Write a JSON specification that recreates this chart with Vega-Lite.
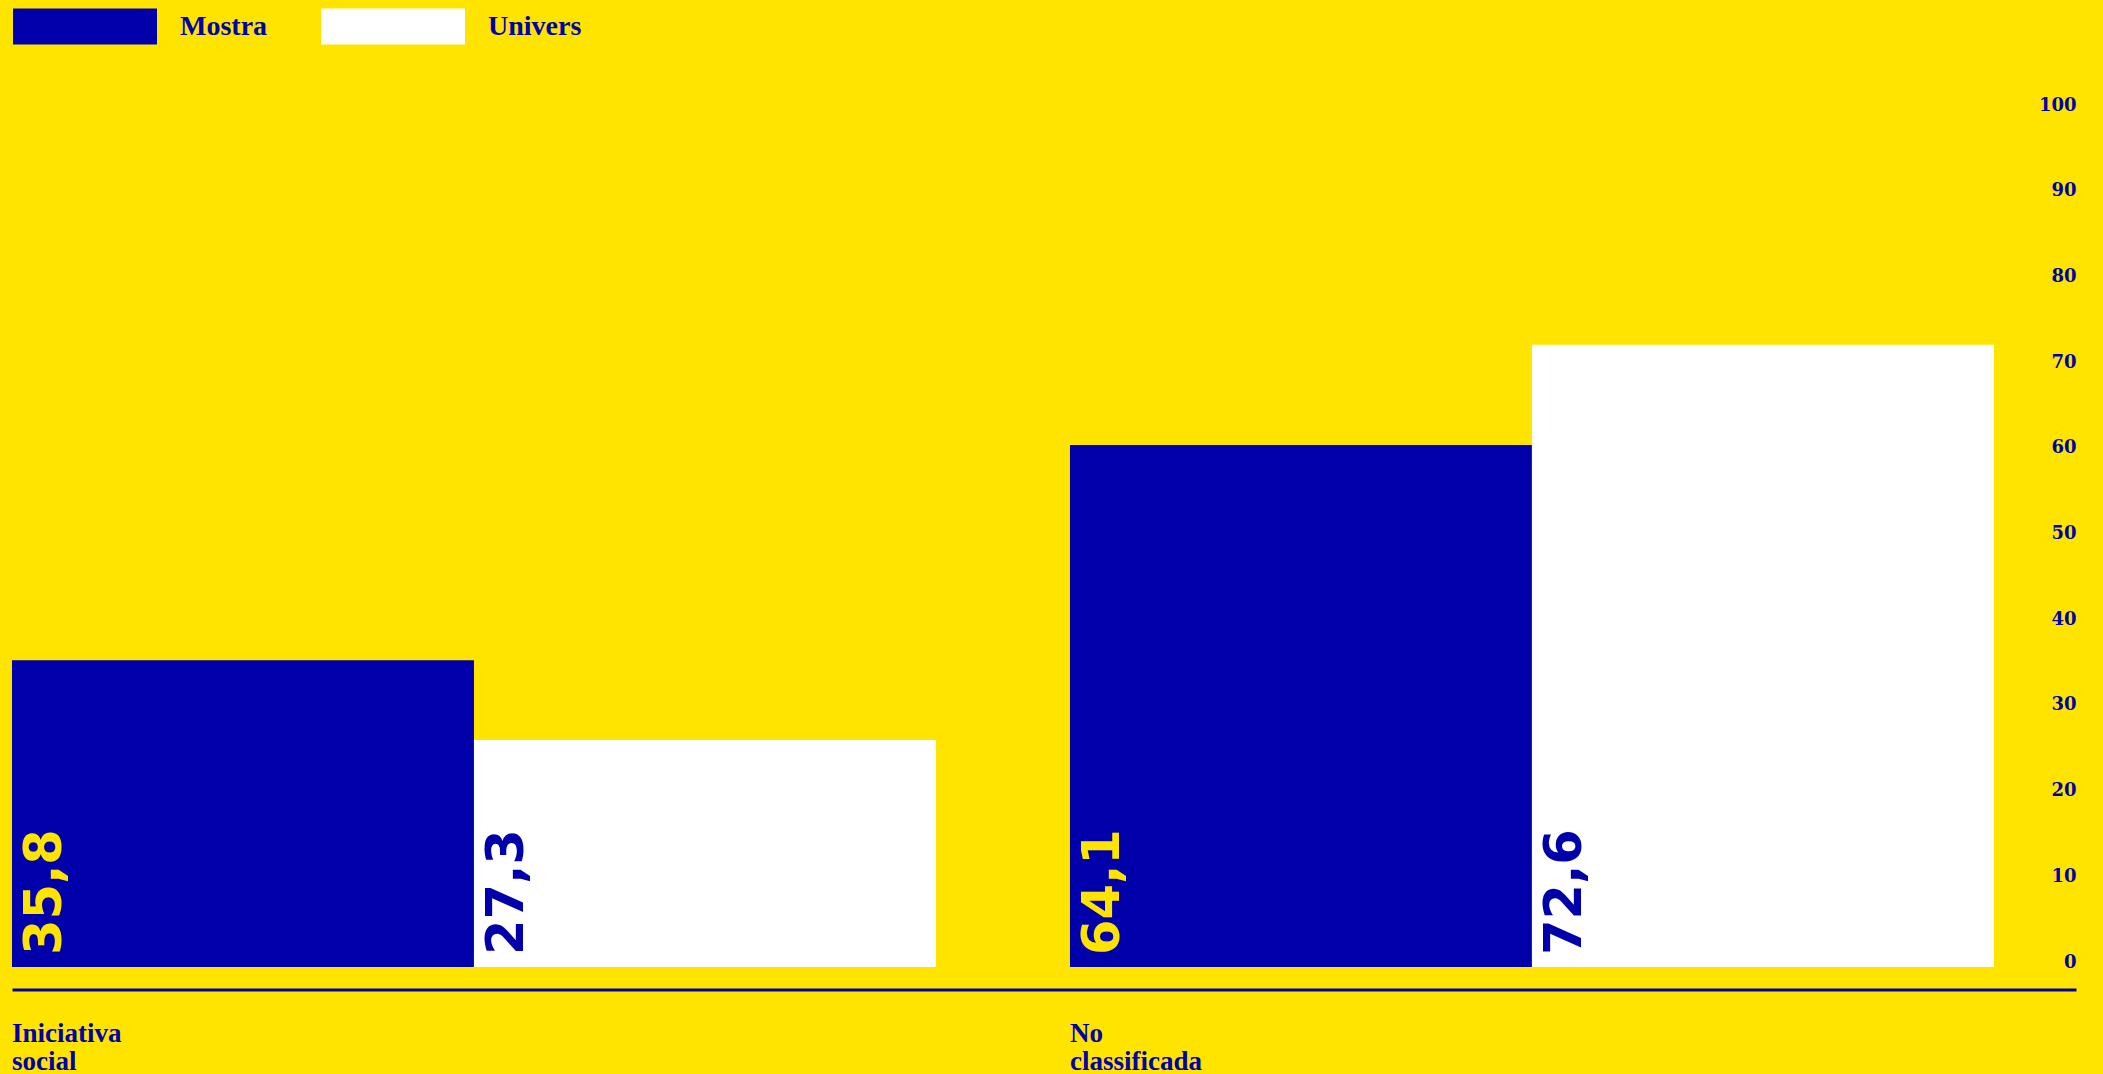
{
  "$schema": "https://vega.github.io/schema/vega-lite/v6.json",
  "autosize": {"type": "none"},
  "width": 2064,
  "height": 857,
  "padding": {"left": 12, "top": 110, "right": 27, "bottom": 107},
  "background": "#FFE400",
  "data": {
    "values": [
      {"categoria": "Iniciativa social", "serie": "Mostra", "valor": 35.8, "etiqueta": "35,8"},
      {"categoria": "Iniciativa social", "serie": "Univers", "valor": 26.5, "etiqueta": "27,3"},
      {"categoria": "No classificada", "serie": "Mostra", "valor": 60.9, "etiqueta": "64,1"},
      {"categoria": "No classificada", "serie": "Univers", "valor": 72.6, "etiqueta": "72,6"}
    ]
  },
  "encoding": {
    "x": {
      "field": "categoria",
      "type": "nominal",
      "sort": ["Iniciativa social", "No classificada"],
      "scale": {"paddingInner": 0.1267, "paddingOuter": 0.0388, "align": 0},
      "axis": {
        "orient": "bottom",
        "title": null,
        "offset": 22.5,
        "domain": true,
        "domainColor": "#0000AA",
        "domainWidth": 3,
        "ticks": false,
        "tickSize": 0,
        "labelAngle": 0,
        "labelAlign": "left",
        "labelBaseline": "alphabetic",
        "labelOffset": -462,
        "labelPadding": 51.5,
        "labelFont": "Liberation Serif",
        "labelFontWeight": "bold",
        "labelFontSize": 27,
        "labelLineHeight": 28,
        "labelColor": "#0000AA",
        "labelExpr": "split(datum.label, ' ')",
        "labelOverlap": false,
        "labelLimit": 0
      }
    },
    "xOffset": {"field": "serie", "type": "nominal", "sort": ["Mostra", "Univers"]}
  },
  "layer": [
    {
      "mark": {"type": "bar"},
      "encoding": {
        "y": {
          "field": "valor",
          "type": "quantitative",
          "scale": {"domain": [0, 100], "nice": false, "zero": true},
          "axis": {
            "orient": "right",
            "title": null,
            "values": [0, 10, 20, 30, 40, 50, 60, 70, 80, 90, 100],
            "domain": false,
            "ticks": false,
            "tickSize": 0,
            "grid": false,
            "labelAlign": "right",
            "labelBaseline": "alphabetic",
            "labelPadding": 0,
            "labelFont": "DejaVu Serif",
            "labelFontWeight": "bold",
            "labelFontSize": 18,
            "labelColor": "#0000AA",
            "labelFlush": false
          }
        },
        "color": {
          "field": "serie",
          "type": "nominal",
          "scale": {"domain": ["Mostra", "Univers"], "range": ["#0000AA", "#FFFFFF"]},
          "legend": {
            "title": null,
            "orient": "none",
            "direction": "horizontal",
            "legendX": 1,
            "legendY": -155.5,
            "padding": 0,
            "symbolType": "M-1,-0.25H1V0.25H-1Z",
            "symbolSize": 20736,
            "symbolStrokeWidth": 0,
            "symbolOpacity": 1,
            "labelOffset": 23,
            "columnPadding": 53,
            "labelFont": "Liberation Serif",
            "labelFontWeight": "bold",
            "labelFontSize": 28,
            "labelColor": "#0000AA",
            "labelLimit": 0
          }
        }
      }
    },
    {
      "mark": {
        "type": "text",
        "angle": 270,
        "align": "left",
        "baseline": "alphabetic",
        "dx": 12,
        "dy": -182,
        "font": "DejaVu Sans",
        "fontWeight": "bold",
        "fontSize": 51
      },
      "encoding": {
        "y": {"datum": 0, "type": "quantitative"},
        "text": {"field": "etiqueta"},
        "color": {
          "condition": {"test": "datum.serie === 'Mostra'", "value": "#FFE400"},
          "value": "#0000AA"
        }
      }
    }
  ],
  "config": {
    "view": {"stroke": null},
    "bar": {"stroke": null}
  }
}
